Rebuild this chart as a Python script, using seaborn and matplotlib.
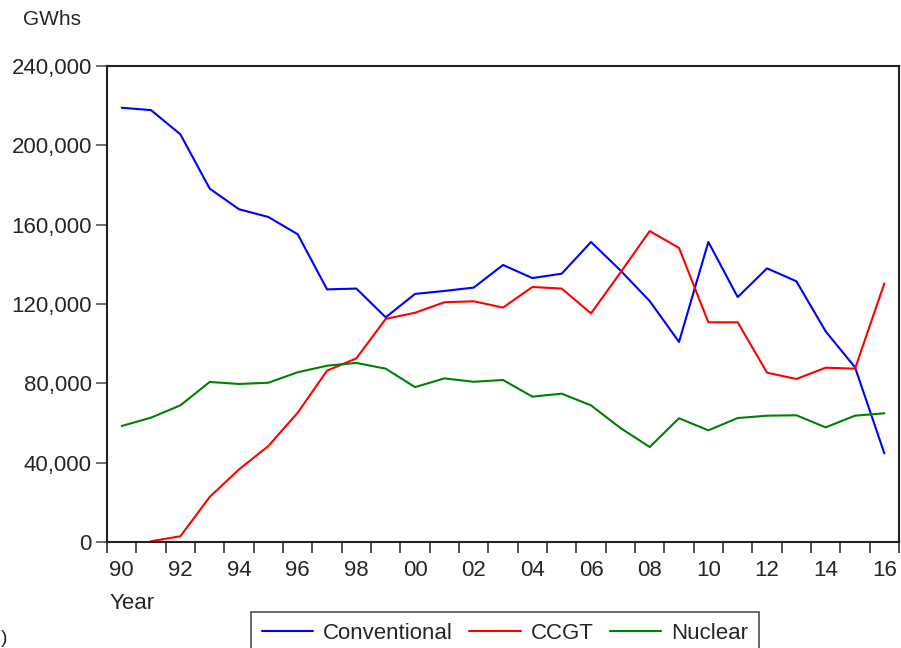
import matplotlib
matplotlib.use("Agg")
import matplotlib.pyplot as plt
import matplotlib.ticker as mticker
import numpy as np
import pandas as pd
import seaborn as sns

years = list(range(1990, 2017))

conventional = [219000, 217800, 205600, 178200, 167800, 163900, 155200, 127400, 127800, 113300,
                125100, 126600, 128300, 139700, 133100, 135300, 151300, 137000, 121500, 100900,
                151300, 123500, 138000, 131500, 106200, 88100, 44700]
ccgt = [np.nan, 400, 2900, 22700, 36600, 48400, 65200, 86400, 92600, 112500,
        115600, 120900, 121400, 118200, 128600, 127800, 115300, 135800, 156800, 148300,
        110800, 110800, 85400, 82200, 87900, 87400, 130400]
nuclear = [58500, 62700, 68900, 80700, 79700, 80300, 85600, 88900, 90300, 87400,
           78100, 82500, 80800, 81700, 73300, 74800, 68900, 57500, 47900, 62400,
           56300, 62500, 63700, 63900, 57800, 63700, 64900]

series_names = ["Conventional", "CCGT", "Nuclear"]
series_colors = ["#0000ff", "#ff0000", "#008000"]

df = pd.DataFrame({"Year": years, "Conventional": conventional, "CCGT": ccgt, "Nuclear": nuclear})
long_df = df.melt(id_vars="Year", var_name="Series", value_name="GWhs")

sns.set_style("white")
plt.rcParams["font.family"] = ["Liberation Sans", "DejaVu Sans"]

fig = plt.figure(figsize=(9.01, 6.48), dpi=100)
ax = fig.add_axes([0.1188, 0.1636, 0.879, 0.7344])

sns.lineplot(data=long_df, x="Year", y="GWhs", hue="Series", hue_order=series_names,
             palette=dict(zip(series_names, series_colors)), linewidth=1.5, ax=ax)

handles, labels = ax.get_legend_handles_labels()
ax.get_legend().remove()

ax.set_xlim(1989.5, 2016.5)
ax.set_ylim(0, 240000)

# ticks at year boundaries, labels on even years
ax.xaxis.set_major_locator(mticker.FixedLocator(np.arange(1989.5, 2017, 1)))
ax.xaxis.set_major_formatter(mticker.NullFormatter())
ax.xaxis.set_minor_locator(mticker.FixedLocator(years[::2]))
ax.xaxis.set_minor_formatter(mticker.FuncFormatter(lambda v, p: f"{int(v) % 100:02d}"))
ax.tick_params(axis="x", which="major", bottom=True, direction="out", length=8, width=1.2,
               color="#333333")
ax.tick_params(axis="x", which="minor", bottom=True, length=0, pad=13, labelsize=16)

ax.yaxis.set_major_locator(mticker.MultipleLocator(40000))
ax.yaxis.set_major_formatter(mticker.FuncFormatter(lambda v, p: f"{int(v):,}"))
ax.tick_params(axis="y", left=True, direction="out", length=8, width=1.2, color="#555555",
               labelsize=16, pad=3)

for s in ax.spines.values():
    s.set_visible(True)
    s.set_color("#222222")
    s.set_linewidth(1.5)

ax.set_xlabel("")
ax.set_ylabel("")
fig.text(0.122, 0.068, "Year", fontsize=16, ha="left", va="center")
fig.text(0.026, 0.97, "GWhs", fontsize=15, ha="left", va="center")
fig.text(0.001, 0.014, ")", fontsize=14, ha="left", va="center")

leg = fig.legend(handles, labels, loc="upper center", bbox_to_anchor=(0.5605, 0.0556),
                 ncol=3, fontsize=16, frameon=True, fancybox=False, handlelength=2.3,
                 handletextpad=0.45, columnspacing=0.75, borderpad=0.5, borderaxespad=0)
leg.get_frame().set_edgecolor("#222222")
leg.get_frame().set_linewidth(1.2)

fig.savefig("out.png", dpi=100)
